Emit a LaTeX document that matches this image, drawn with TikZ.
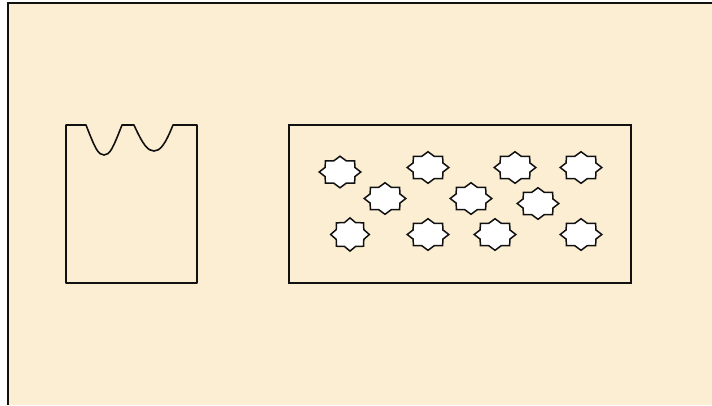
\documentclass[tikz,border=0pt]{standalone}
\definecolor{pergamino}{HTML}{FCEED2}
\definecolor{tinta}{HTML}{111111}
\tikzset{
  marco/.style={line width=1.8bp, draw=tinta},
  vaso/.style={line width=1.6bp, draw=tinta, line join=round},
  recipiente/.style={rectangle, line width=1.6bp, draw=tinta, inner sep=0pt},
  estrella/.pic={
    \draw[line width=1.5bp, draw=tinta, fill=white, line join=miter]
      plot[samples at={0,22.5,...,337.5}]
      ({20.8*(0.885+0.115*cos(8*\x))*cos(\x)}, {15.8*(0.885+0.115*cos(8*\x))*sin(\x)}) -- cycle;
  }
}
\begin{document}
\begin{tikzpicture}[x=1bp, y=-1bp]
  \useasboundingbox (0,0) rectangle (712,405);
  % fondo
  \fill[pergamino] (8,3) rectangle (712,405);
  \draw[marco] (712,3) -- (8,3) -- (8,405);
  % vaso con muescas
  \draw[vaso] (66,125) -- (86,125)
    .. controls (95,148) and (98,155) .. (104,155)
    .. controls (110,155) and (113,148) .. (122,125) -- (134,125)
    .. controls (143,145) and (148,151) .. (154,151)
    .. controls (160,151) and (165,145) .. (173,125) -- (197,125)
    -- (197,283) -- (66,283) -- cycle;
  % recipiente con estrellas
  \node (caja) [recipiente, minimum width=342bp, minimum height=158bp] at (460,204) {};
  \pic at (340,172) {estrella};
  \pic at (428,167.5) {estrella};
  \pic at (515,167.5) {estrella};
  \pic at (581,167.5) {estrella};
  \pic at (385,198.5) {estrella};
  \pic at (471,198.5) {estrella};
  \pic at (538,203.5) {estrella};
  \pic[xscale=0.93, yscale=1.05] at (350,234.5) {estrella};
  \pic at (428,234.5) {estrella};
  \pic at (495,234.5) {estrella};
  \pic at (581,234.5) {estrella};
\end{tikzpicture}
\end{document}
